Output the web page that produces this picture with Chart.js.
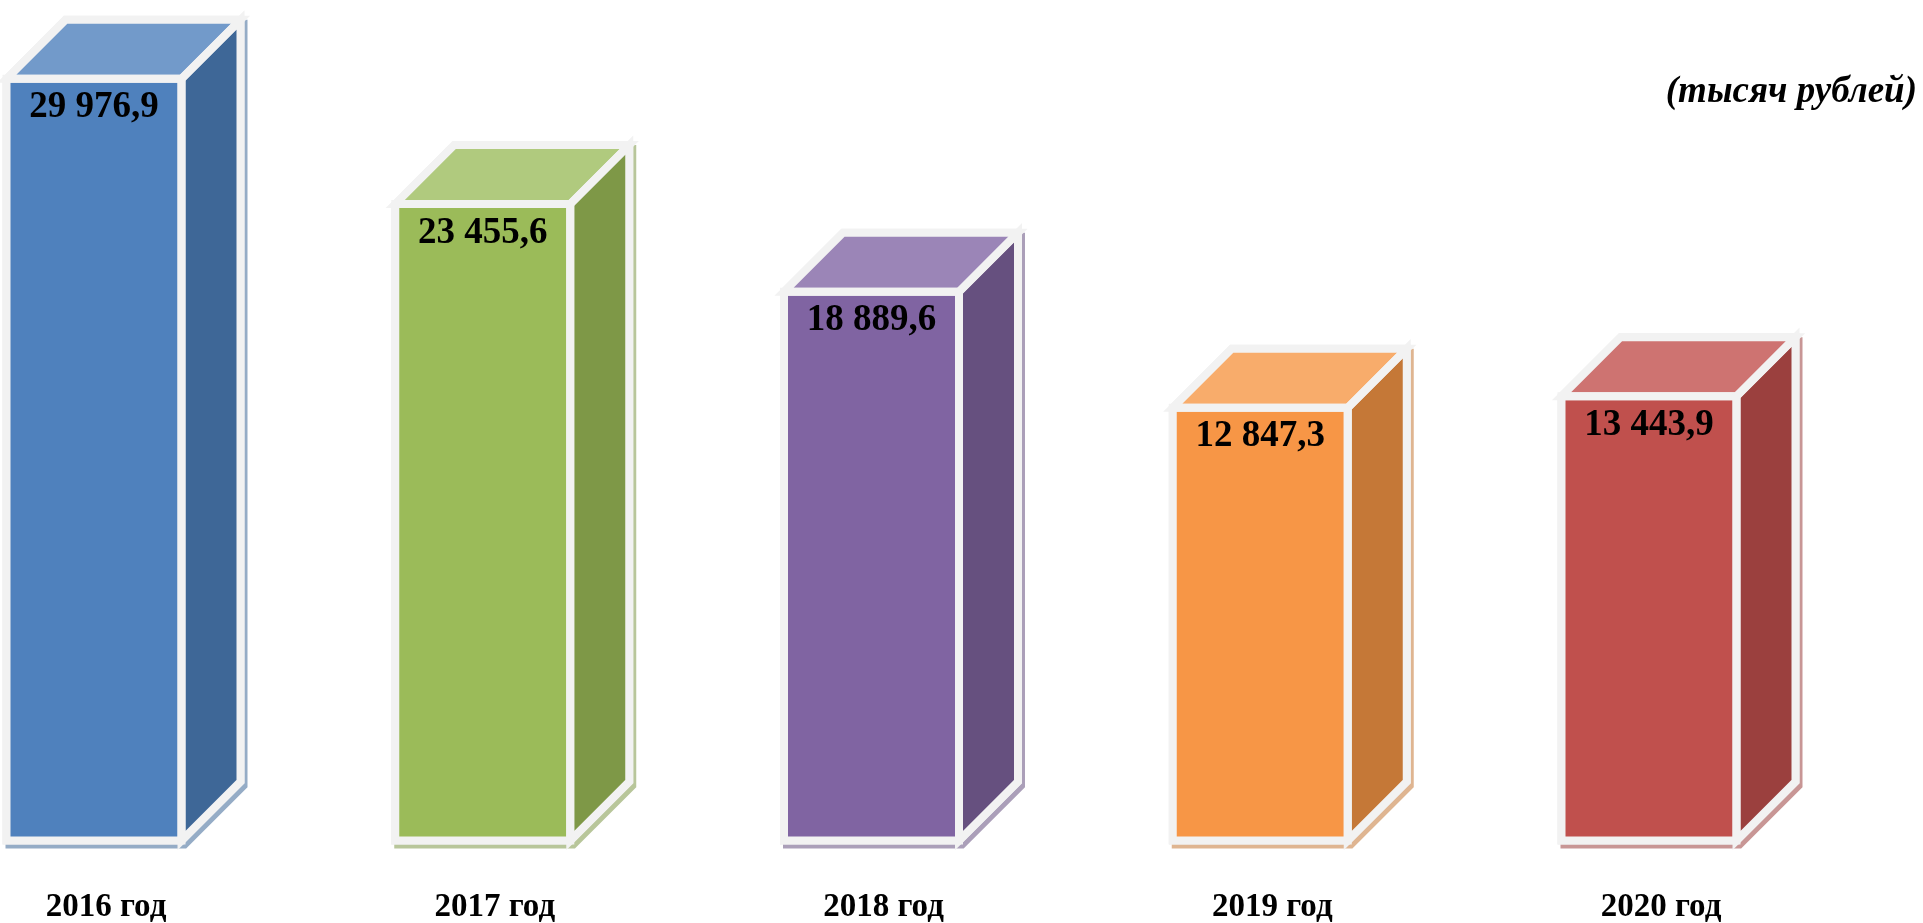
<!DOCTYPE html>
<html><head><meta charset="utf-8">
<script src="https://cdn.jsdelivr.net/npm/chart.js@4.4.1/dist/chart.umd.min.js"></script>
<style>html,body{margin:0;padding:0;background:#fff;overflow:hidden}#wrap{width:1923px;height:923px;position:relative}</style>
</head><body><div id="wrap"><canvas id="c"></canvas></div>
<script>
// ---- data ----
const categories = ['2016 год', '2017 год', '2018 год', '2019 год', '2020 год'];
const values = [29976.9, 23455.6, 18889.6, 12847.3, 13443.9];
const unitLabel = '(тысяч рублей)';

// ---- styles ----
const frontColors = ['#4f81bd', '#9bbb59', '#8064a2', '#f79646', '#c0504d'];
const topColors   = ['#729aca', '#b0ca7e', '#9b85b7', '#f8ac6b', '#ce7371'];
const sideColors  = ['#3e6797', '#7e9847', '#66507f', '#c57837', '#9b403e'];
const AXIS_MIN = -9700, AXIS_MAX = 32000;
const DEPTH = 59, EDGE = 8, EDGE_COLOR = '#f2f2f2';
const SERIF = '"Liberation Serif", "Times New Roman", serif';

function fmt(v) {
  const parts = v.toFixed(1).split('.');
  return parts[0].replace(/\B(?=(\d{3})+(?!\d))/g, ' ') + ',' + parts[1];
}
function hexA(hex, a) {
  const n = parseInt(hex.slice(1), 16);
  return 'rgba(' + (n >> 16) + ',' + ((n >> 8) & 255) + ',' + (n & 255) + ',' + a + ')';
}
function geom(bar) {
  const p = bar.getProps(['x', 'y', 'base', 'width'], true);
  return { L: p.x - p.width / 2, R: p.x + p.width / 2, T: p.y, B: p.base, cx: p.x };
}
function poly(ctx, pts) {
  ctx.beginPath();
  ctx.moveTo(pts[0][0], pts[0][1]);
  for (let k = 1; k < pts.length; k++) ctx.lineTo(pts[k][0], pts[k][1]);
  ctx.closePath();
}
function topFace(g) { return [[g.L, g.T], [g.L + DEPTH, g.T - DEPTH], [g.R + DEPTH, g.T - DEPTH], [g.R, g.T]]; }
function sideFace(g) { return [[g.R, g.T], [g.R + DEPTH, g.T - DEPTH], [g.R + DEPTH, g.B - DEPTH], [g.R, g.B]]; }
function frontFace(g) { return [[g.L, g.T], [g.R, g.T], [g.R, g.B], [g.L, g.B]]; }
function silhouette(g) { return [[g.L, g.B], [g.L, g.T], [g.L + DEPTH, g.T - DEPTH], [g.R + DEPTH, g.T - DEPTH], [g.R + DEPTH, g.B - DEPTH], [g.R, g.B]]; }

const cubePlugin = {
  id: 'cube',
  beforeDatasetsDraw(chart) {
    const ctx = chart.ctx;
    chart.getDatasetMeta(0).data.forEach((bar, i) => {
      const g = geom(bar);
      ctx.save();
      ctx.lineJoin = 'miter';
      ctx.lineWidth = EDGE;
      ctx.strokeStyle = EDGE_COLOR;
      ctx.shadowColor = hexA(sideColors[i], 0.55);
      ctx.shadowOffsetX = 3; ctx.shadowOffsetY = 4; ctx.shadowBlur = 0;
      poly(ctx, silhouette(g));
      ctx.stroke();
      ctx.restore();
      ctx.save();
      poly(ctx, topFace(g)); ctx.fillStyle = topColors[i]; ctx.fill();
      poly(ctx, sideFace(g)); ctx.fillStyle = sideColors[i]; ctx.fill();
      ctx.restore();
    });
  },
  afterDatasetsDraw(chart) {
    const ctx = chart.ctx;
    const ds = chart.data.datasets[0];
    chart.getDatasetMeta(0).data.forEach((bar, i) => {
      const g = geom(bar);
      ctx.save();
      ctx.lineJoin = 'miter';
      ctx.lineWidth = EDGE;
      ctx.strokeStyle = EDGE_COLOR;
      poly(ctx, frontFace(g)); ctx.stroke();
      poly(ctx, topFace(g)); ctx.stroke();
      poly(ctx, sideFace(g)); ctx.stroke();
      ctx.fillStyle = '#000';
      ctx.font = 'bold 37px ' + SERIF;
      ctx.textAlign = 'center';
      ctx.textBaseline = 'alphabetic';
      ctx.fillText(fmt(ds.data[i]), g.cx, g.T + 38.5);
      ctx.restore();
    });
  },
  afterDraw(chart) {
    const ctx = chart.ctx;
    ctx.save();
    ctx.fillStyle = '#000';
    ctx.font = 'italic bold 37px ' + SERIF;
    ctx.textAlign = 'right';
    ctx.textBaseline = 'alphabetic';
    ctx.fillText(unitLabel, chart.width - 6, 102);
    ctx.restore();
  }
};

new Chart(document.getElementById('c'), {
  type: 'bar',
  data: {
    labels: categories,
    datasets: [{
      data: values,
      backgroundColor: frontColors,
      borderWidth: 0,
      barThickness: 175,
      base: AXIS_MIN,
      clip: false
    }]
  },
  options: {
    responsive: true,
    maintainAspectRatio: false,
    animation: false,
    events: [],
    layout: { padding: { left: 94, right: 274, top: 40, bottom: 0 } },
    plugins: { legend: { display: false }, tooltip: { enabled: false }, title: { display: false } },
    scales: {
      x: {
        type: 'category',
        offset: false,
        grid: { display: false, drawTicks: false },
        border: { display: false },
        ticks: {
          color: '#000',
          font: { family: SERIF, size: 33, weight: 'bold', lineHeight: '134px' },
          padding: 0,
          labelOffset: 12,
          maxRotation: 0,
          autoSkip: false
        },
        afterFit(scale) { scale.height = 82.4; }
      },
      y: { display: false, min: AXIS_MIN, max: AXIS_MAX }
    }
  },
  plugins: [cubePlugin]
});
</script>
</body></html>
